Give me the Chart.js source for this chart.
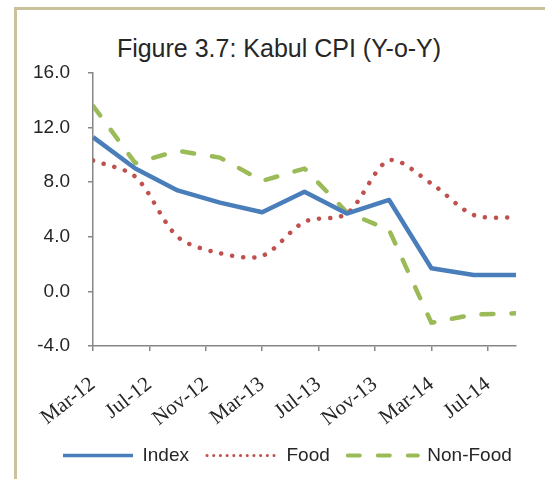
<!DOCTYPE html>
<html>
<head>
<meta charset="utf-8">
<script src="https://cdn.jsdelivr.net/npm/chart.js@4"></script>
<style>
  html, body { margin: 0; padding: 0; background: #fff; overflow: hidden; }
  body { width: 545px; height: 479px; position: relative; }
  #frame { position: absolute; left: 14px; top: 7px; width: 620px; height: 600px;
           border-left: 3px solid #c9c29d; border-top: 3px solid #c9c29d; }
  #title { position: absolute; left: 0; top: 36px; width: 558px; text-align: center;
           font: 25px "Liberation Sans", Arial, sans-serif; line-height: 25px; color: #262626; }
  #cpiChart { position: absolute; left: 0; top: 0; }
</style>
</head>
<body>
<div id="frame"></div>
<div id="title">Figure 3.7: Kabul CPI (Y-o-Y)</div>
<canvas id="cpiChart" width="545" height="479"></canvas>
<script>
// quarterly observations, x = months since Mar-12
const monthIdx = [0, 3, 6, 9, 12, 15, 18, 21, 24, 27, 30];
const indexVals = [11.3, 9.0, 7.4, 6.5, 5.8, 7.3, 5.7, 6.7, 1.7, 1.2, 1.2];
const foodVals = [9.6, 8.4, 4.0, 2.8, 2.6, 5.1, 5.7, 9.6, 7.9, 5.6, 5.4];
const nonFoodVals = [13.6, 9.4, 10.3, 9.8, 8.1, 9.0, 5.8, 4.5, -2.3, -1.7, -1.6];

const xTickLabels = ["Mar-12", "Jul-12", "Nov-12", "Mar-13", "Jul-13", "Nov-13", "Mar-14", "Jul-14"];
const seriesNames = ["Index", "Food", "Non-Food"];

const axisGray = "#868686";

function toPoints(vals) {
  return vals.map((v, i) => ({ x: monthIdx[i], y: v }));
}

// legend marks are a bit thinner than the plotted lines
const legendWidths = [3.5, 3, 4];
const legendDash = [[], [0.1, 6.6], [12, 18]];
const legendCaps = ["butt", "round", "round"];

// move the legend row right so it starts under the y labels, like the original
const legendShift = {
  id: "legendShift",
  afterLayout(chart) {
    chart.legend.left += 45;
  }
};

const ctx = document.getElementById("cpiChart").getContext("2d");
new Chart(ctx, {
  type: "line",
  plugins: [legendShift],
  data: {
    datasets: [
      {
        label: seriesNames[0],
        data: toPoints(indexVals),
        borderColor: "#4a7ebb",
        borderWidth: 4.5,
        borderJoinStyle: "round",
        pointRadius: 0,
        tension: 0
      },
      {
        label: seriesNames[1],
        data: toPoints(foodVals),
        borderColor: "#c0504d",
        borderWidth: 4.5,
        borderCapStyle: "round",
        borderDash: [0.1, 11],
        pointRadius: 0,
        tension: 0.3
      },
      {
        label: seriesNames[2],
        data: toPoints(nonFoodVals),
        borderColor: "#9bbb59",
        borderWidth: 4.5,
        borderCapStyle: "round",
        borderJoinStyle: "round",
        borderDash: [12, 18],
        pointRadius: 0,
        tension: 0
      }
    ]
  },
  options: {
    responsive: false,
    animation: false,
    layout: { padding: { left: 0, right: 0, top: 73, bottom: 4 } },
    plugins: {
      title: { display: false },
      tooltip: { enabled: false },
      legend: {
        position: "bottom",
        align: "start",
        labels: {
          usePointStyle: true,
          pointStyle: "line",
          pointStyleWidth: 70,
          boxHeight: 19,
          padding: 18,
          color: "#262626",
          font: { family: "'Liberation Sans', Arial, sans-serif", size: 19 },
          generateLabels: (chart) => {
            const items = Chart.defaults.plugins.legend.labels.generateLabels(chart);
            items.forEach((it, i) => {
              it.pointStyle = "line";
              it.lineWidth = legendWidths[i];
              it.lineDash = legendDash[i];
              it.lineCap = legendCaps[i];
            });
            return items;
          }
        }
      }
    },
    scales: {
      x: {
        type: "linear",
        min: 0,
        max: 30,
        afterFit: (s) => { s.height = 82; },
        border: { display: true, color: axisGray, width: 1.5 },
        grid: { drawOnChartArea: false, drawTicks: true, tickLength: 5, color: axisGray, lineWidth: 1.5 },
        ticks: {
          stepSize: 4,
          includeBounds: false,
          autoSkip: false,
          minRotation: 38,
          maxRotation: 38,
          padding: 26,
          color: "#262626",
          font: { family: "'Liberation Serif', 'Times New Roman', serif", size: 21, lineHeight: 0.6 },
          callback: (v) => xTickLabels[v / 4]
        }
      },
      y: {
        min: -4,
        max: 16,
        afterFit: (s) => { s.width = 93; },
        border: { display: true, color: axisGray, width: 1.5 },
        grid: { drawOnChartArea: false, drawTicks: true, tickLength: 5, color: axisGray, lineWidth: 1.5 },
        ticks: {
          stepSize: 4,
          padding: 18,
          color: "#262626",
          font: { family: "'Liberation Sans', Arial, sans-serif", size: 19 },
          callback: (v) => v.toFixed(1)
        }
      },
      yRight: {
        position: "right",
        display: true,
        afterFit: (s) => { s.width = 29; },
        border: { display: false },
        grid: { display: false },
        ticks: { display: false }
      }
    }
  }
});
</script>
</body>
</html>
